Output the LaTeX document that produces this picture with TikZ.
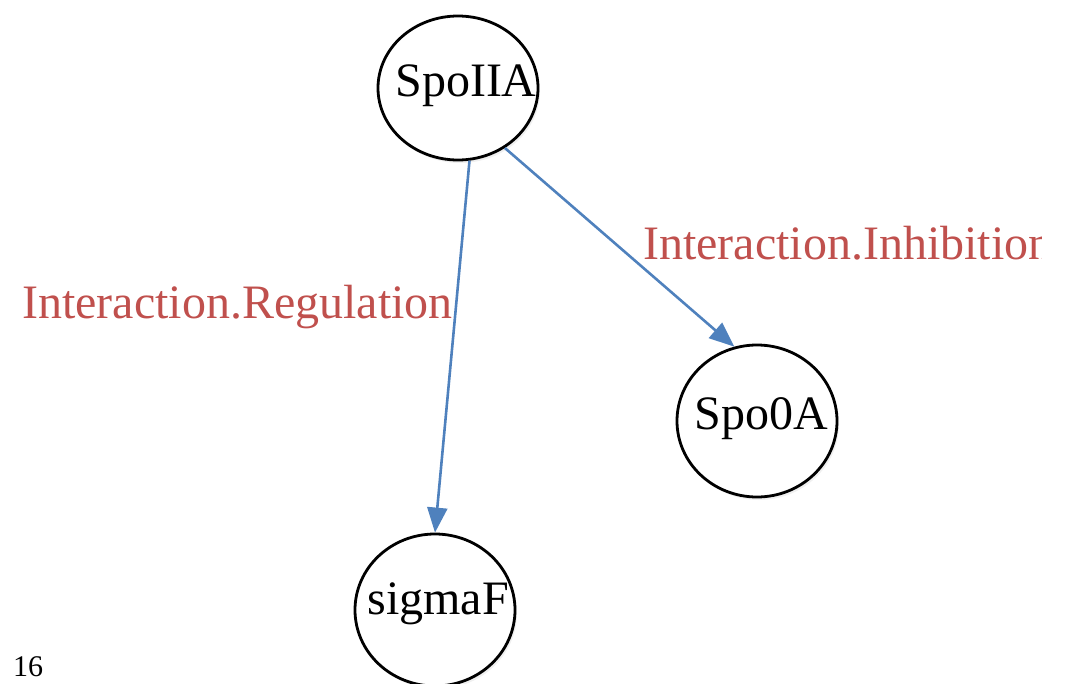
\documentclass[tikz,border=0pt]{standalone}
\usepackage{fontspec}
\setmainfont{Liberation Serif}
\usetikzlibrary{shapes.geometric,arrows.meta,shadows}
\definecolor{edgeblue}{HTML}{4F81BD}
\definecolor{labelred}{HTML}{C0504D}
\tikzset{
  bubble/.style={ellipse, draw=black, line width=2.8pt, fill=white,
    minimum width=160pt, minimum height=148pt, inner sep=0pt,
    drop shadow={opacity=0.12, shadow xshift=2pt, shadow yshift=-3pt}},
  nodetext/.style={font=\fontsize{48}{50}\selectfont, inner sep=0pt},
  rel/.style={draw=edgeblue, line width=2.6pt,
    -{Triangle[length=25pt,width=20pt]}},
  rellabel/.style={text=labelred, font=\fontsize{48}{50}\selectfont,
    inner sep=0pt, anchor=base west},
}
\begin{document}
\begin{tikzpicture}[x=1pt,y=-1pt]
  \useasboundingbox (0,0) rectangle (1066,683);
  \clip (0,0) rectangle (1066,683);

  % protein nodes
  \node[bubble, minimum height=144pt] (spoiia) at (458,88) {};
  \node[nodetext] (spoiiaT) at (466,86) {SpoIIA};
  \node[bubble, minimum height=152pt] (spo0a) at (757,421) {};
  \node[nodetext] (spo0aT) at (761,419) {Spo0A};
  \node[bubble, minimum height=152pt] (sigmaf) at (435,610) {};
  \node[nodetext] (sigmafT) at (438,604) {sigmaF};

  % interactions
  \draw[rel] (spoiia.-81) -- (sigmaf.north);
  \draw[rel] (spoiia.-52) -- (spo0a.107);

  % interaction labels (the right one runs past its text frame)
  \node[rellabel] (lreg) at (22,318) {Interaction.Regulation};
  \begin{scope}
    \clip (600,180) rectangle (1041,300);
    \node[rellabel] (linh) at (643,259) {Interaction.Inhibition};
  \end{scope}

  % page number
  \node[font=\fontsize{30}{32}\selectfont, inner sep=0pt, anchor=base west]
    (pageno) at (13,676) {16};
\end{tikzpicture}
\end{document}
